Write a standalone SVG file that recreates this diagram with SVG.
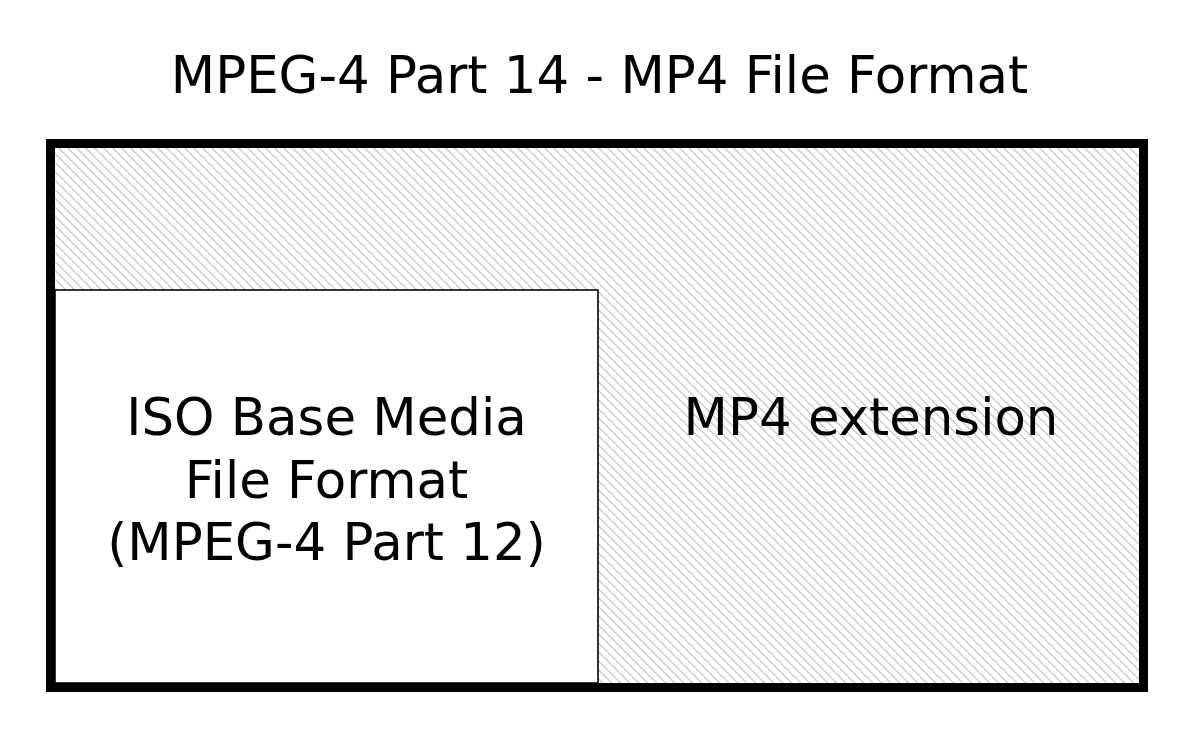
<svg xmlns="http://www.w3.org/2000/svg" width="1200" height="741" viewBox="0 0 1200 741">
  <style>
    text { font-family: "DejaVu Sans", "Liberation Sans", sans-serif; font-size: 51.4px; fill: #000; text-anchor: middle; }
  </style>
  <defs>
    <pattern id="hatch" patternUnits="userSpaceOnUse" width="6.364" height="20" patternTransform="rotate(-45)">
      <line x1="0.5" y1="0" x2="0.5" y2="20" stroke="#b4b4b4" stroke-width="1"/>
    </pattern>
  </defs>
  <rect width="1200" height="741" fill="#fff"/>
  <g id="title">
    <text x="599.5" y="93">MPEG-4 Part 14 - MP4 File Format</text>
  </g>
  <g id="mp4">
    <rect x="50.5" y="143.5" width="1093" height="544" fill="#fff"/>
    <rect x="50.5" y="143.5" width="1093" height="544" fill="url(#hatch)"/>
    <text x="871" y="435">MP4 extension</text>
  </g>
  <g id="isobmff">
    <rect x="55" y="290" width="543" height="393" fill="#fff" stroke="#000" stroke-width="1.6"/>
    <text x="326.5" y="435">ISO Base Media</text>
    <text x="326.5" y="498">File Format</text>
    <text x="326.5" y="560">(MPEG-4 Part 12)</text>
  </g>
  <g id="frame">
    <rect x="50.5" y="143.5" width="1093" height="544" fill="none" stroke="#000" stroke-width="9"/>
  </g>
  <g id="connectors"/>
</svg>
